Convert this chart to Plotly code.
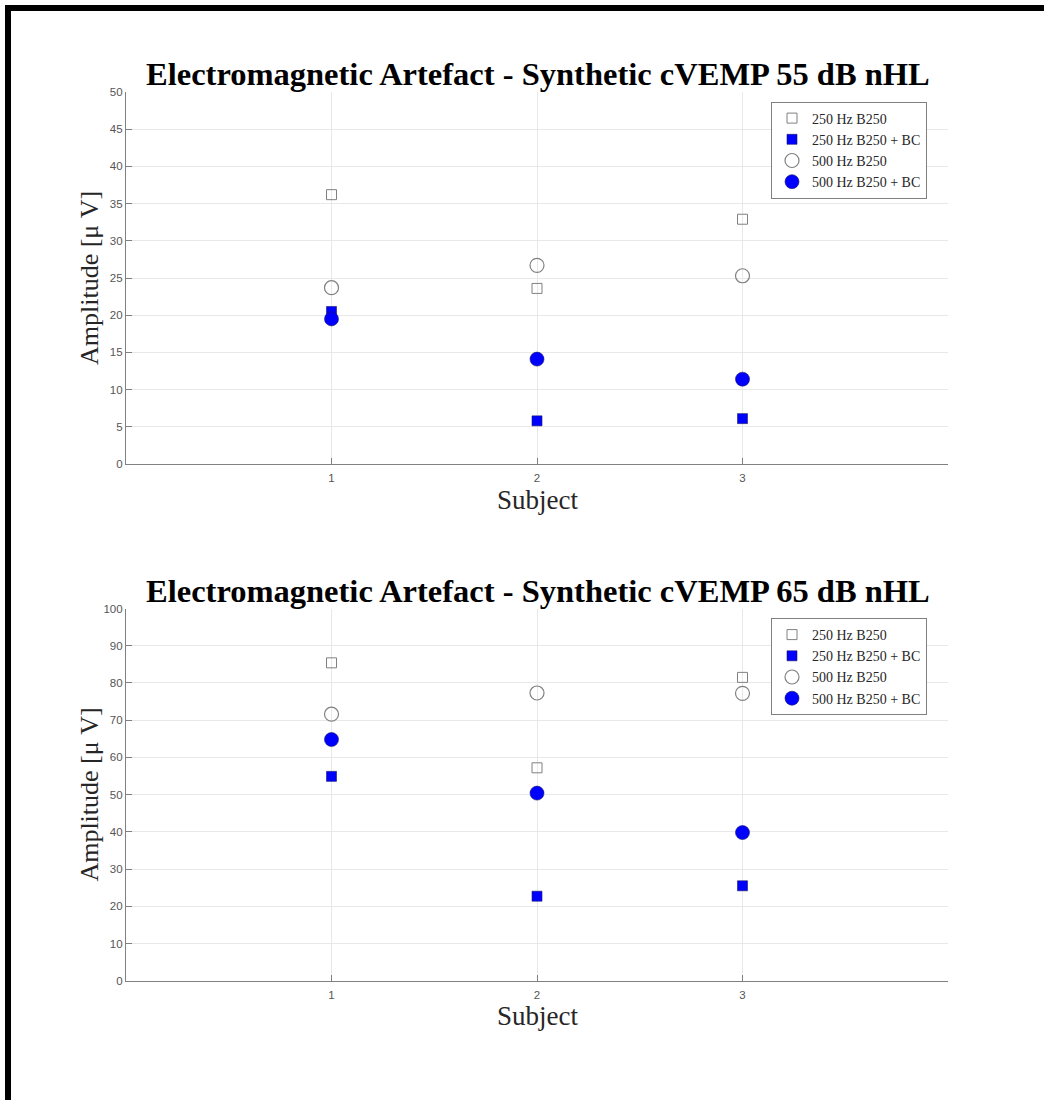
import plotly.graph_objects as go

W, H = 1044, 1100

subjects = [1, 2, 3]

# 55 dB nHL
top_250 = [36.2, 23.6, 32.9]
top_250_bc = [20.5, 5.8, 6.1]
top_500 = [23.7, 26.7, 25.3]
top_500_bc = [19.5, 14.1, 11.4]

# 65 dB nHL
bot_250 = [85.4, 57.2, 81.5]
bot_250_bc = [54.9, 22.7, 25.5]
bot_500 = [71.6, 77.3, 77.2]
bot_500_bc = [64.8, 50.4, 39.8]

series_names = ["250 Hz B250", "250 Hz B250 + BC", "500 Hz B250", "500 Hz B250 + BC"]
titles = ["Electromagnetic Artefact - Synthetic cVEMP 55 dB nHL",
          "Electromagnetic Artefact - Synthetic cVEMP 65 dB nHL"]
y_titles = ["Amplitude [μ V]", "Amplitude [μ V]"]
x_title = "Subject"
y_ticks_top = [0, 5, 10, 15, 20, 25, 30, 35, 40, 45, 50]
y_ticks_bot = [0, 10, 20, 30, 40, 50, 60, 70, 80, 90, 100]
x_ticks = [1, 2, 3]


def px_x(p):
    return p / W


def px_y(p):
    return 1 - p / H


styles = [
    dict(symbol="square-open", size=10, color="#808080", line=dict(width=1, color="#808080")),
    dict(symbol="square", size=10, color="#0000ff", line=dict(width=0.6, color="#1a1a66")),
    dict(symbol="circle-open", size=14, color="#808080", line=dict(width=1.2, color="#808080")),
    dict(symbol="circle", size=14, color="#0000ff", line=dict(width=0.6, color="#1a1a66")),
]

fig = go.Figure()

panels = [
    (["x", "y"], [top_250, top_250_bc, top_500, top_500_bc], "legend"),
    (["x2", "y2"], [bot_250, bot_250_bc, bot_500, bot_500_bc], "legend2"),
]
for (xa, ya), data, leg in panels:
    for name, vals, st in zip(series_names, data, styles):
        fig.add_trace(go.Scatter(
            x=subjects, y=vals, mode="markers", name=name,
            xaxis=xa, yaxis=ya, legend=leg,
            marker=st, cliponaxis=False,
        ))

xdom = [px_x(126), px_x(948)]
top_dom = [px_y(464), px_y(92)]
bot_dom = [px_y(980.7), px_y(608.5)]

axis_common = dict(
    showline=True, linecolor="#808080", linewidth=1.2,
    showgrid=True, gridcolor="#e8e8e8", gridwidth=1,
    ticks="inside", ticklen=6, tickcolor="#808080", tickwidth=1,
    tickfont=dict(family="Liberation Sans, Arial", size=11.5, color="#555555"),
    zeroline=False, automargin=False, mirror=False,
)

legend_common = dict(
    xanchor="left", yanchor="top",
    bgcolor="white", bordercolor="#808080", borderwidth=1,
    font=dict(family="Liberation Serif, Times New Roman", size=14, color="#262626"),
    tracegroupgap=0, itemwidth=30,
)

fig.update_layout(
    width=W, height=H,
    margin=dict(l=0, r=0, t=0, b=0),
    paper_bgcolor="white", plot_bgcolor="white",
    showlegend=True,
    xaxis=dict(domain=xdom, range=[0, 4], tickvals=x_ticks, anchor="y", ticklabelstandoff=3, **axis_common),
    yaxis=dict(domain=top_dom, range=[0, 50], tickvals=y_ticks_top, anchor="x", **axis_common),
    xaxis2=dict(domain=xdom, range=[0, 4], tickvals=x_ticks, anchor="y2", ticklabelstandoff=3, **axis_common),
    yaxis2=dict(domain=bot_dom, range=[0, 100], tickvals=y_ticks_bot, anchor="x2", **axis_common),
    legend=dict(x=px_x(771), y=px_y(101.5), **legend_common),
    legend2=dict(x=px_x(771), y=px_y(618), **legend_common),
)

serif = "Liberation Serif, Times New Roman"
ann = []
for title, ytop in zip(titles, [92, 608.5]):
    ann.append(dict(text="<b>%s</b>" % title, x=px_x(538), y=px_y(ytop), xref="paper", yref="paper",
                    xanchor="center", yanchor="bottom", showarrow=False, yshift=-2,
                    font=dict(family=serif, size=32.5, color="black")))
for yt, cy in zip(y_titles, [278, 794.6]):
    ann.append(dict(text=yt, x=px_x(90), y=px_y(cy), xref="paper", yref="paper",
                    xanchor="center", yanchor="middle", showarrow=False, textangle=-90,
                    font=dict(family=serif, size=26, color="#262626")))
for cy in [500, 1016]:
    ann.append(dict(text=x_title, x=px_x(537), y=px_y(cy), xref="paper", yref="paper",
                    xanchor="center", yanchor="middle", showarrow=False,
                    font=dict(family=serif, size=27, color="#262626")))
fig.update_layout(annotations=ann)

# outer frame (cropped at right and bottom)
fig.add_shape(type="rect", xref="paper", yref="paper",
              x0=px_x(8), x1=1.05, y0=-0.05, y1=px_y(8),
              line=dict(color="black", width=6), fillcolor="rgba(0,0,0,0)", layer="above")

fig.write_html("out.html", config={"displayModeBar": False},
               post_script="document.body.style.margin='0';document.body.style.padding='0';")
